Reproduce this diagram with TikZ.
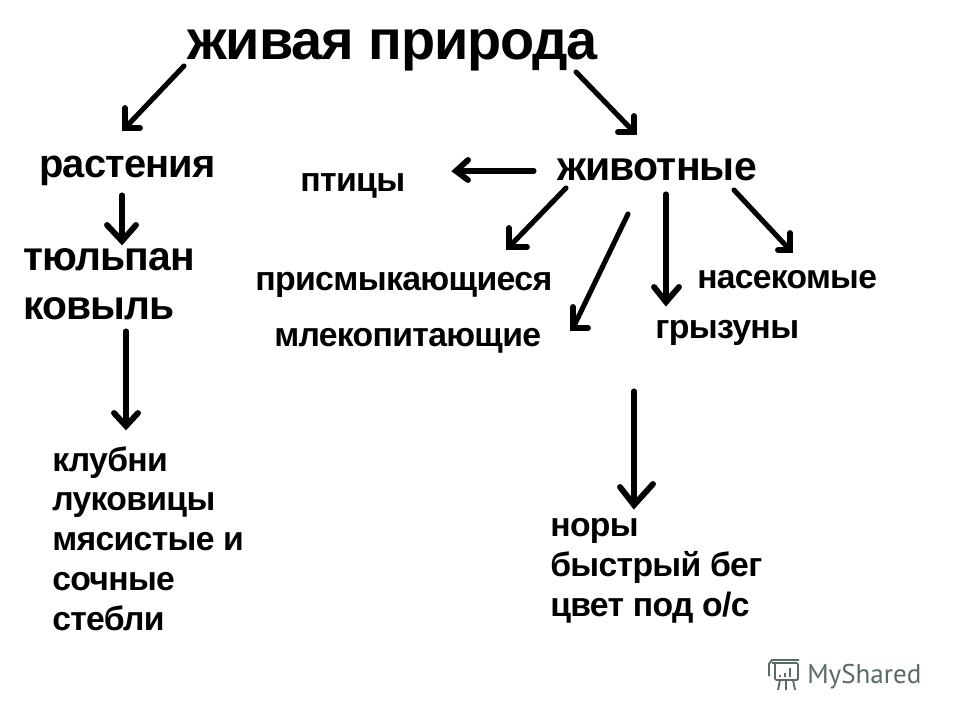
\documentclass[tikz,border=0pt]{standalone}
\usepackage{fontspec}
\setmainfont[LetterSpace=-2]{Liberation Sans}
\newfontfamily\logofont{PT Sans}
\definecolor{logoc}{HTML}{5A6B66}
\tikzset{
 lab/.style={font=\bfseries\fontsize{#1}{#1}\selectfont,inner sep=0pt,anchor=base west,text=black},
 arr/.style={line width=3.8pt,black,line cap=round,line join=miter},
 archead/.style={line width=4.4pt,black,line cap=round,line join=miter},
 logoline/.style={draw=logoc,line width=1.4pt}
}
\begin{document}
\begin{tikzpicture}[x=0.75pt,y=-0.75pt]
\useasboundingbox[fill=white] (0,0) rectangle (960,720);
\node[lab=41.9] (root) at (187,60) {живая природа};
\node[lab=29.9] (rast) at (39,178) {растения};
\node[lab=30.7] (zhiv) at (557,181) {животные};
\node[lab=25.4] (pt) at (300,192) {птицы};
\node[lab=30.6] (tyul) at (23,271) {тюльпан};
\node[lab=30.6] (kov) at (23,320) {ковыль};
\node[lab=25.4] (pres) at (255,291) {присмыкающиеся};
\node[lab=25.3] (mlek) at (274,346) {млекопитающие};
\node[lab=25.2] (nas) at (697,288) {насекомые};
\node[lab=25.4] (gr) at (655,338) {грызуны};
\node[lab=25.3] (k1) at (52,471) {клубни};
\node[lab=25.3] (k2) at (52,510) {луковицы};
\node[lab=25.3] (k3) at (52,550) {мясистые и};
\node[lab=25.3] (k4) at (52,590) {сочные};
\node[lab=25.3] (k5) at (52,630) {стебли};
\node[lab=25.3] (n1) at (550,536) {норы};
\node[lab=25.3] (n2) at (550,576) {быстрый бег};
\node[lab=25.3] (n3) at (550,616) {цвет под о/с};
\node[font=\logofont\fontsize{20.3}{20.3}\selectfont,text=logoc,inner sep=0pt,anchor=base west] (ms) at (807,683) {MyShared};
\draw[logoline,rounded corners=1pt] (772,663) -- (798,663) -- (798,680) -- (775,680) -- (775,663);
\draw[logoline] (769,676) -- (769,664) -- (772,660) -- (799,660);
\draw[logoline] (780,680) -- (778,690) (786,680) -- (786,690) (793,680) -- (795,690);
\draw[logoline] (780,677) -- (780,675) (785,677) -- (785,673) (790,677) -- (790,668);
% named ends: s = start, t = tip, a and b = barb ends
\foreach \n/\sx/\sy/\tx/\ty/\ax/\ay/\bx/\by in {
 1/184/66/125/128/125/108/140/128,
 2/576/72/634/132/634/116/618/132,
 3/122/195/122/241/107/225/136/225,
 4/534/171/456/171/468/160/468/180,
 5/566/188/509/247/509/228/527/247,
 6/628/214/573/328/573/307/588/328,
 7/666/194/666/302/654/287/679/287,
 8/734/190/790/250/790/233/778/250,
 9/126/331/126/426/114/413/138/413,
 10/634/391/634/505/620/487/653/484}
 {\coordinate (s\n) at (\sx,\sy); \coordinate (t\n) at (\tx,\ty);
  \coordinate (a\n) at (\ax,\ay); \coordinate (b\n) at (\bx,\by);
  \draw[arr] (s\n) -- (t\n); \draw[archead] (a\n) -- (t\n) -- (b\n);}
\end{tikzpicture}
\end{document}
